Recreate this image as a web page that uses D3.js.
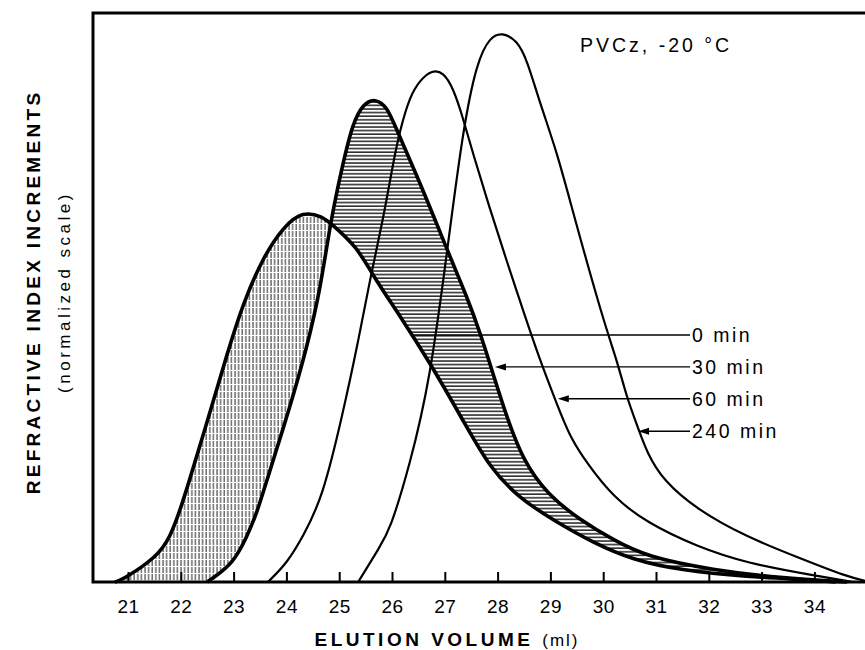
<!DOCTYPE html>
<html>
<head>
<meta charset="utf-8">
<script src="https://cdn.jsdelivr.net/npm/d3@7"></script>
<style>
body { margin: 0; background: #fff; }
svg text { font-family: "Liberation Sans", Arial, sans-serif; fill: #000; }
</style>
</head>
<body>
<div id="chart"></div>
<script>
// elution curves, [volume (ml), normalized signal]
var min0 = [[20.75,0],[20.89,0.35],[21.55,4.4],[21.8,7.9],[21.98,12.5],[22.12,16.5],[22.55,29.7],[22.88,40.2],
  [23.18,49.0],[23.56,57.1],[23.94,62.4],[24.31,65.2],[24.69,64.2],[24.83,63.1],[25.34,58.9],[25.64,53.8],
  [26.15,46.8],[26.72,38.5],[27.34,28.5],[27.86,19.9],[28.42,14.7],[29.05,10.9],[29.81,6.9],[30.56,3.9],
  [31.45,2.1],[32.72,0.9],[33.97,0.35],[34.4,0]];
var min30 = [[22.5,0],[22.61,0.7],[22.99,3.3],[23.25,7.9],[23.44,12.1],[23.63,17.9],[24.07,30.8],[24.39,41.3],
  [24.64,51.3],[24.83,63.1],[25.07,73.6],[25.26,80.7],[25.45,84.0],[25.68,85.0],[25.91,83.5],[26.09,79.4],
  [26.59,68.9],[27.1,57.1],[27.42,50.1],[27.67,43.8],[27.91,36.7],[28.18,28.8],[28.48,21.4],[28.94,15.4],
  [29.56,10.9],[30.19,7.4],[30.83,4.4],[32.08,2.1],[33.35,0.7],[34.62,0]];
var min60 = [[23.65,0],[24.01,3.3],[24.31,7.9],[24.69,14.9],[25.07,29.7],[25.34,41.3],[25.58,53.1],[25.83,63.6],
  [26.02,73.6],[26.15,79.4],[26.34,85.4],[26.53,88.2],[26.76,90.0],[26.97,89.6],[27.16,86.8],[27.34,81.7],
  [27.53,75.4],[27.86,65.4],[28.18,56.2],[28.48,47.8],[28.8,39.0],[29.13,31.1],[29.37,25.5],[29.69,20.9],
  [30.19,14.9],[30.83,10.4],[31.78,6.2],[32.72,3.3],[33.97,1.2],[34.73,0]];
var min240 = [[25.36,0],[25.77,6.2],[25.96,9.1],[26.34,20.6],[26.72,35.5],[27.04,57.8],[27.34,79.4],[27.61,91.6],
  [27.86,95.8],[28.08,96.6],[28.37,95.2],[28.56,91.7],[28.8,84.2],[29.13,75.4],[29.43,64.9],[30.0,46.0],
  [30.26,39.0],[30.45,32.3],[30.66,27.1],[30.83,22.7],[31.13,17.9],[31.78,12.7],[32.72,7.9],[33.67,4.4],
  [34.62,0.9],[35.05,0]];

var xTicks = [21,22,23,24,25,26,27,28,29,30,31,32,33,34];
var labels = ["0 min","30 min","60 min","240 min"];
var labelY = [43.4, 37.8, 32.2, 26.5];
var arrowTip = [26.4, 27.95, 29.14, 30.66];
var hasHead = [false, true, true, true];

var svg = d3.select("#chart").append("svg")
    .attr("width", 865)
    .attr("height", 650);

var x = d3.scaleLinear().domain([21, 34]).range([128, 814.4]);
var y = d3.scaleLinear().domain([0, 100]).range([582, 13]);

var curve = d3.curveBasis;
var line = d3.line().x(d => x(d[0])).y(d => y(d[1])).curve(curve);
var area = d3.area().x(d => x(d[0])).y0(y(0)).y1(d => y(d[1])).curve(curve);

var defs = svg.append("defs");
var vp = defs.append("pattern").attr("id", "vh").attr("patternUnits", "userSpaceOnUse")
    .attr("width", 3.6).attr("height", 7);
vp.append("line").attr("x1", 1).attr("x2", 1).attr("y1", 0).attr("y2", 6)
    .attr("stroke", "#222").attr("stroke-width", 1);
var hp = defs.append("pattern").attr("id", "hh").attr("patternUnits", "userSpaceOnUse")
    .attr("width", 8).attr("height", 3.6);
hp.append("line").attr("x1", 0).attr("x2", 8).attr("y1", 1).attr("y2", 1)
    .attr("stroke", "#111").attr("stroke-width", 1.4);

// 0 min above 30 min -> vertical hatching; 30 min above 0 min -> horizontal
var m1 = defs.append("mask").attr("id", "m1");
m1.append("path").attr("d", area(min0)).attr("fill", "#fff");
m1.append("path").attr("d", area(min30)).attr("fill", "#000");
var m2 = defs.append("mask").attr("id", "m2");
m2.append("path").attr("d", area(min30)).attr("fill", "#fff");
m2.append("path").attr("d", area(min0)).attr("fill", "#000");

svg.append("rect").attr("x", 93).attr("y", 13).attr("width", 772).attr("height", 569)
    .attr("fill", "url(#vh)").attr("mask", "url(#m1)");
svg.append("rect").attr("x", 93).attr("y", 13).attr("width", 772).attr("height", 569)
    .attr("fill", "url(#hh)").attr("mask", "url(#m2)");

var series = [min0, min30, min60, min240];
var widths = [3.6, 3.6, 2.2, 2.2];
svg.selectAll(".curve").data(series).enter()
  .append("path")
    .attr("class", "curve")
    .attr("d", line)
    .attr("fill", "none")
    .attr("stroke", "#000")
    .attr("stroke-width", (d, i) => widths[i])
    .attr("stroke-linejoin", "round");

// frame
svg.append("path")
    .attr("d", "M865,13H93V582H865")
    .attr("fill", "none").attr("stroke", "#000").attr("stroke-width", 3);

// x axis, ticks point inward
var xAxis = svg.append("g").attr("transform", "translate(0,582)")
    .call(d3.axisBottom(x).tickValues(xTicks).tickSize(-10).tickPadding(18).tickSizeOuter(0));
xAxis.select(".domain").remove();
xAxis.selectAll(".tick line").attr("stroke-width", 2);
xAxis.selectAll(".tick text")
    .attr("font-size", 19).attr("letter-spacing", 0.5)
    .style("font-family", "'Liberation Sans', Arial, sans-serif");

// pointer lines from the labels to the curves
var ann = svg.selectAll(".ann").data(labels).enter().append("g").attr("class", "ann");
ann.append("line")
    .attr("x1", (d, i) => x(arrowTip[i]) + (hasHead[i] ? 6 : 0))
    .attr("x2", 690)
    .attr("y1", (d, i) => y(labelY[i]))
    .attr("y2", (d, i) => y(labelY[i]))
    .attr("stroke", "#000").attr("stroke-width", 1.4);
ann.filter((d, i) => hasHead[i]).append("path")
    .attr("d", d => {
      var i = labels.indexOf(d), tx = x(arrowTip[i]), ty = y(labelY[i]);
      return "M" + tx + "," + ty + "L" + (tx + 11) + "," + (ty - 3.5) + "L" + (tx + 11) + "," + (ty + 3.5) + "Z";
    })
    .attr("fill", "#000");
ann.append("text")
    .attr("x", 692)
    .attr("y", (d, i) => y(labelY[i]))
    .attr("dy", "0.35em")
    .attr("font-size", 19.5).attr("letter-spacing", 2.5)
    .text(d => d);

svg.append("text").attr("x", 580).attr("y", 52)
    .attr("font-size", 19.5).attr("letter-spacing", 3)
    .text("PVCz, -20 \u00B0C");

var xl = svg.append("text").attr("x", 447).attr("y", 646).attr("text-anchor", "middle")
    .attr("font-size", 19).attr("letter-spacing", 3.5);
xl.append("tspan").attr("font-weight", "bold").text("ELUTION VOLUME ");
xl.append("tspan").attr("font-size", 17).attr("letter-spacing", 2).text(" (ml)");

svg.append("text")
    .attr("transform", "translate(40,292) rotate(-90)")
    .attr("text-anchor", "middle")
    .attr("font-size", 19).attr("font-weight", "bold").attr("letter-spacing", 3.3)
    .text("REFRACTIVE INDEX INCREMENTS");
svg.append("text")
    .attr("transform", "translate(70,292) rotate(-90)")
    .attr("text-anchor", "middle")
    .attr("font-size", 17).attr("letter-spacing", 3.5)
    .text("(normalized scale)");
</script>
</body>
</html>
